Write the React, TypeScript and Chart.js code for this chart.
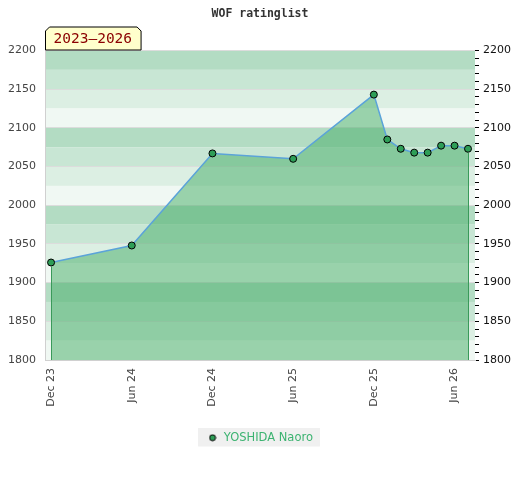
import React, { useEffect, useRef } from "react";
import { Chart, registerables } from "chart.js";

Chart.register(...registerables);

const chartTitle = "WOF ratinglist";
const playerName = "YOSHIDA Naoro";
const periodLabel = "2023–2026";

const dates = [
  "2023-12", "2024-06", "2024-12", "2025-06", "2025-12",
  "2026-01", "2026-02", "2026-03", "2026-04", "2026-05", "2026-06", "2026-07",
];
const ratings = [1926, 1948, 2067, 2060, 2143, 2085, 2073, 2068, 2068, 2077, 2077, 2073];

const tickDates = ["2023-12", "2024-06", "2024-12", "2025-06", "2025-12", "2026-06"];
const tickLabels = ["Dec 23", "Jun 24", "Dec 24", "Jun 25", "Dec 25", "Jun 26"];

const yMin = 1800;
const yMax = 2200;
const yStep = 50;
const yMinorStep = 10;
const bandStep = 25;
const bandColors = ["#b3dcc3", "#c8e6d4", "#dcefe3", "#f0f8f3"];

const baseYear = 2023;
const baseMonth = 12;
const monthIndex = (d: string) => {
  const [y, m] = d.split("-").map(Number);
  return (y - baseYear) * 12 + (m - baseMonth);
};

const xPadBefore = 0.45;
const xPadAfter = 0.52;

const bandsPlugin = {
  id: "bands",
  beforeDraw(chart: any) {
    const { ctx, chartArea, scales } = chart;
    const y = scales.y;
    ctx.save();
    let i = 0;
    for (let v = yMax; v > yMin; v -= bandStep, i++) {
      const p1 = y.getPixelForValue(v);
      const p2 = y.getPixelForValue(v - bandStep);
      ctx.fillStyle = bandColors[i % bandColors.length];
      ctx.fillRect(chartArea.left, p1, chartArea.right - chartArea.left, p2 - p1);
    }
    const lg = chart.legend;
    if (lg && lg.legendHitBoxes && lg.legendHitBoxes.length) {
      const b = lg.legendHitBoxes[0];
      ctx.fillStyle = "#f0f0f0";
      ctx.fillRect(b.left - 9, b.top - 4, b.width + 16, b.height + 7);
    }
    ctx.restore();
  },
  afterDatasetsDraw(chart: any) {
    const { ctx, chartArea } = chart;
    const pts = chart.getDatasetMeta(0).data;
    if (!pts.length) return;
    ctx.save();
    ctx.strokeStyle = "#3a9a5a";
    ctx.lineWidth = 1;
    [pts[0], pts[pts.length - 1]].forEach((p: any) => {
      const x = Math.round(p.x) + 0.5;
      ctx.beginPath();
      ctx.moveTo(x, p.y + 4);
      ctx.lineTo(x, chartArea.bottom);
      ctx.stroke();
    });
    ctx.restore();
  },
  afterDraw(chart: any) {
    const { ctx, chartArea } = chart;
    ctx.save();
    ctx.font = "14.5px 'DejaVu Sans Mono', monospace";
    const tw = ctx.measureText(periodLabel).width;
    const x0 = chartArea.left + 0.5;
    const x1 = x0 + tw + 17;
    const bottom = chartArea.top - 0.5;
    const top = bottom - 23;
    const bev = 4;
    ctx.beginPath();
    ctx.moveTo(x0, bottom);
    ctx.lineTo(x0, top + bev);
    ctx.lineTo(x0 + bev, top);
    ctx.lineTo(x1 - bev, top);
    ctx.lineTo(x1, top + bev);
    ctx.lineTo(x1, bottom);
    ctx.closePath();
    ctx.fillStyle = "#ffffcc";
    ctx.fill();
    ctx.strokeStyle = "#000";
    ctx.lineWidth = 1;
    ctx.stroke();
    ctx.fillStyle = "#8b0000";
    ctx.textBaseline = "middle";
    ctx.textAlign = "left";
    ctx.fillText(periodLabel, x0 + 8, top + 12);
    ctx.restore();
  },
};

function makeLegendMarker(): HTMLCanvasElement {
  const c = document.createElement("canvas");
  c.width = 8;
  c.height = 8;
  const g = c.getContext("2d")!;
  g.beginPath();
  g.arc(4, 4, 3, 0, Math.PI * 2);
  g.fillStyle = "#2e9e57";
  g.fill();
  g.strokeStyle = "#000";
  g.lineWidth = 1;
  g.stroke();
  return c;
}

export default function App() {
  const ref = useRef<HTMLCanvasElement>(null);
  useEffect(() => {
    const marker = makeLegendMarker();
    const xTicks = tickDates.map(monthIndex);
    const xs = dates.map(monthIndex);
    const chart = new Chart(ref.current!, {
      type: "line",
      data: {
        datasets: [
          {
            label: playerName,
            data: xs.map((x, i) => ({ x, y: ratings[i] })),
            borderColor: "#5ba3d9",
            borderWidth: 1.5,
            backgroundColor: "rgba(76,176,107,0.53)",
            fill: "start",
            tension: 0,
            pointRadius: 3.5,
            pointBackgroundColor: "#2e9e57",
            pointBorderColor: "#000",
            pointBorderWidth: 1,
          },
        ],
      },
      options: {
        responsive: false,
        animation: false,
        layout: { padding: { left: 0, right: 0, top: 0, bottom: 18.5 } },
        scales: {
          x: {
            type: "linear",
            min: xs[0] - xPadBefore,
            max: xs[xs.length - 1] + xPadAfter,
            afterBuildTicks: (scale: any) => {
              scale.ticks = xTicks.map((v) => ({ value: v }));
            },
            afterFit: (scale: any) => {
              scale.height = 62;
            },
            ticks: {
              autoSkip: false,
              minRotation: 90,
              maxRotation: 90,
              padding: 8,
              color: "#444",
              font: { family: "'DejaVu Sans'", size: 11 },
              callback: (v: any) => {
                const i = xTicks.indexOf(Number(v));
                return i >= 0 ? tickLabels[i] : "";
              },
            },
            grid: { display: false, drawTicks: false },
            border: { display: true, color: "#d0d0d0", width: 1 },
          },
          y: {
            position: "left",
            min: yMin,
            max: yMax,
            afterFit: (scale: any) => {
              scale.width = 37;
            },
            ticks: {
              stepSize: yStep,
              padding: 9,
              color: "#444",
              font: { family: "'DejaVu Sans'", size: 11 },
              callback: (v: any) => String(v),
            },
            grid: { color: "#dcdcdc", drawTicks: false },
            border: { display: true, color: "#d0d0d0", width: 1 },
          },
          y2: {
            position: "right",
            min: yMin,
            max: yMax,
            afterFit: (scale: any) => {
              scale.width = 37;
            },
            ticks: {
              stepSize: yMinorStep,
              autoSkip: false,
              padding: 4,
              color: "#111",
              font: { family: "'DejaVu Sans'", size: 11 },
              callback: (v: any) => (Number(v) % yStep === 0 ? String(v) : ""),
            },
            grid: { drawOnChartArea: false, drawTicks: true, tickLength: 4, tickColor: "#000" },
            border: { display: false },
          },
        },
        plugins: {
          title: {
            display: true,
            text: chartTitle,
            color: "#333",
            font: { family: "'DejaVu Sans Mono'", size: 11.5, weight: "bold", lineHeight: 1 },
            padding: { top: 0, bottom: 31 },
          },
          legend: {
            display: true,
            position: "bottom",
            labels: {
              usePointStyle: true,
              boxWidth: 11,
              boxHeight: 11,
              padding: 10,
              color: "#3cb371",
              font: { family: "'DejaVu Sans'", size: 11.5 },
              generateLabels: () => [
                {
                  text: playerName,
                  fillStyle: "#2e9e57",
                  strokeStyle: "#000",
                  lineWidth: 1,
                  pointStyle: marker,
                  fontColor: "#3cb371",
                  datasetIndex: 0,
                  hidden: false,
                } as any,
              ],
            },
          },
          tooltip: { enabled: false },
        },
      } as any,
      plugins: [bandsPlugin],
    });
    return () => chart.destroy();
  }, []);
  return (
    <div style={{ width: 504, height: 464 }}>
      <canvas ref={ref} width={504} height={464} style={{ display: "block" }} />
    </div>
  );
}
